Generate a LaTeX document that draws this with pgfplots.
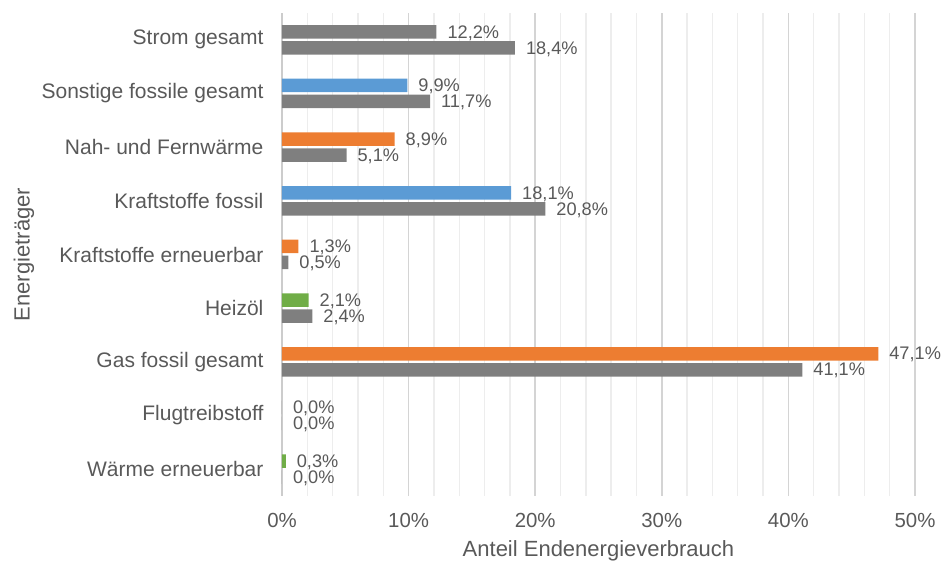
\documentclass[border=0pt]{standalone}
\usepackage{pgfplots}
\pgfplotsset{compat=1.18}
\usepackage{fontspec}
\setmainfont{Liberation Sans}
\definecolor{txt}{HTML}{595959}
\definecolor{cgray}{HTML}{7F7F7F}
\definecolor{cblue}{HTML}{5B9BD5}
\definecolor{corange}{HTML}{ED7D31}
\definecolor{cgreen}{HTML}{70AD47}
\newcommand{\fcat}{\fontsize{10.5}{12}\selectfont}
\newcommand{\ftick}{\fontsize{10.2}{12}\selectfont}
\newcommand{\fdat}{\fontsize{9.1}{11}\selectfont}
\newcommand{\flab}{\fontsize{11}{13}\selectfont}
\begin{document}
\begin{tikzpicture}
\useasboundingbox (-141pt,-34.5pt) rectangle (329.5pt,248pt);
\begin{axis}[
  scale only axis, width=316.5pt, height=241.5pt,
  xbar, bar width=6.75pt,
  xmin=0, xmax=50, ymin=-0.5, ymax=8.5,
  /pgf/number format/assume math mode=true,
  xtick={0,10,...,50}, minor x tick num=4,
  xmajorgrids, xminorgrids,
  major grid style={draw=black!17, line width=0.7pt},
  minor grid style={draw=black!7, line width=0.7pt},
  ytick={0,...,8},
  yticklabels={Wärme erneuerbar, Flugtreibstoff, Gas fossil gesamt, Heizöl, Kraftstoffe erneuerbar, Kraftstoffe fossil, Nah- und Fernwärme, Sonstige fossile gesamt, Strom gesamt},
  axis lines*=left,
  x axis line style={draw=none},
  y axis line style={draw=black!20, line width=0.8pt, -},
  tick style={draw=none},
  xticklabel={\pgfmathprintnumber{\tick}\%},
  xticklabel style={font=\ftick, text=txt, yshift=-5pt},
  yticklabel style={font=\fcat, text=txt, xshift=-1.5pt},
  xlabel={Anteil Endenergieverbrauch},
  ylabel={Energieträger},
  label style={font=\flab, text=txt},
  xlabel style={at={(rel axis cs:0.5,0)}, anchor=center, yshift=-27.5pt},
  ylabel style={at={([xshift=-129pt]rel axis cs:0,0.5)}, anchor=center},
  nodes near coords={\pgfmathprintnumber[fixed,fixed zerofill,precision=1,use comma]{\pgfplotspointmeta}\%},
  point meta=x,
  nodes near coords style={font=\fdat, text=txt, anchor=west, xshift=2pt, yshift=-0.5pt},
]
% top bars (coloured)
\addplot[fill=cgray, draw=none, bar shift=4pt] coordinates {(12.2,8) (0.0,1)};
\addplot[fill=cblue, draw=none, bar shift=4pt] coordinates {(9.9,7) (18.1,5)};
\addplot[fill=corange, draw=none, bar shift=4pt] coordinates {(8.9,6) (1.3,4) (47.1,2)};
\addplot[fill=cgreen, draw=none, bar shift=4pt] coordinates {(2.1,3) (0.3,0)};
% bottom bars (grey)
\addplot[fill=cgray, draw=none, bar shift=-4pt] coordinates {(18.4,8) (11.7,7) (5.1,6) (20.8,5) (0.5,4) (2.4,3) (41.1,2) (0.0,1) (0.0,0)};
\end{axis}
\end{tikzpicture}
\end{document}
